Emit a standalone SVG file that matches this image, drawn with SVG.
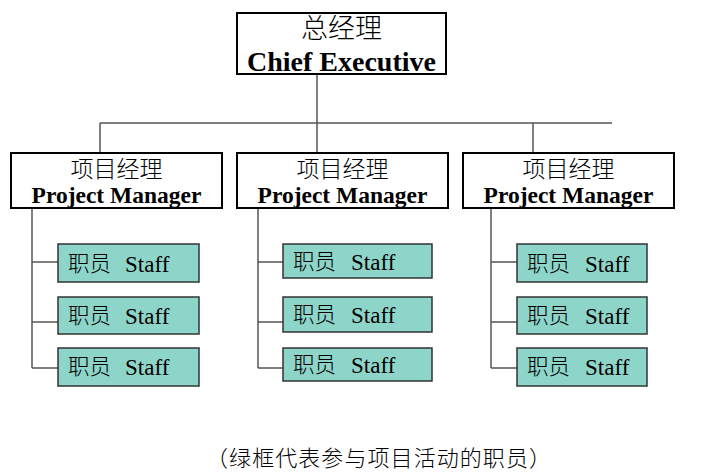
<svg xmlns="http://www.w3.org/2000/svg" width="710" height="475" viewBox="0 0 710 475">
<style>
.box{fill:#fff;stroke:#000;stroke-width:2}
.staff{fill:#8dd4c9;stroke:#333;stroke-width:1.5}
.ln{stroke:#555;stroke-width:1.5;fill:none}
.cn{font-family:"Noto Sans CJK SC","Noto Sans CJK JP",sans-serif;fill:#000;font-weight:300}
.en{font-family:"Liberation Serif","Times New Roman",serif;fill:#000}
.b{font-weight:bold}
</style>
<g id="connectors">
<path class="ln" d="M317,74 V153 M100,123 H612 M100,123 V153 M533,123 V153"/>
<path class="ln" d="M32,208 V368 M32,262 H58 M32,322 H58 M32,368 H58"/>
<path class="ln" d="M258,208 V368 M258,262 H283 M258,322 H283 M258,368 H283"/>
<path class="ln" d="M491,208 V368 M491,262 H517 M491,322 H517 M491,368 H517"/>
</g>
<g id="ceo">
<rect class="box" x="237" y="13" width="209" height="61"/>
<text class="cn" x="341.5" y="38" font-size="27" text-anchor="middle">总经理</text>
<text class="en b" x="341.5" y="71" font-size="28" text-anchor="middle">Chief Executive</text>
</g>
<g id="pm1">
<rect class="box" x="11" y="153" width="211" height="55"/>
<text class="cn" x="116.5" y="177" font-size="23" text-anchor="middle">项目经理</text>
<text class="en b" x="116.5" y="203" font-size="23.5" text-anchor="middle">Project Manager</text>
</g>
<g id="pm2">
<rect class="box" x="237" y="153" width="211" height="55"/>
<text class="cn" x="342.5" y="177" font-size="23" text-anchor="middle">项目经理</text>
<text class="en b" x="342.5" y="203" font-size="23.5" text-anchor="middle">Project Manager</text>
</g>
<g id="pm3">
<rect class="box" x="463" y="153" width="211" height="55"/>
<text class="cn" x="568.5" y="177" font-size="23" text-anchor="middle">项目经理</text>
<text class="en b" x="568.5" y="203" font-size="23.5" text-anchor="middle">Project Manager</text>
</g>
<g id="s11"><rect class="staff" x="58" y="244" width="141" height="38"/><text class="cn" x="68" y="271" font-size="21.5">职员</text><text class="en" x="125" y="272" font-size="23">Staff</text></g>
<g id="s12"><rect class="staff" x="58" y="297" width="141" height="37"/><text class="cn" x="68" y="323" font-size="21.5">职员</text><text class="en" x="125" y="324" font-size="23">Staff</text></g>
<g id="s13"><rect class="staff" x="58" y="348" width="141" height="38"/><text class="cn" x="68" y="374" font-size="21.5">职员</text><text class="en" x="125" y="375" font-size="23">Staff</text></g>
<g id="s21"><rect class="staff" x="283" y="244" width="149" height="34"/><text class="cn" x="293" y="269" font-size="21.5">职员</text><text class="en" x="351" y="270" font-size="23">Staff</text></g>
<g id="s22"><rect class="staff" x="283" y="297" width="149" height="35"/><text class="cn" x="293" y="322" font-size="21.5">职员</text><text class="en" x="351" y="323" font-size="23">Staff</text></g>
<g id="s23"><rect class="staff" x="283" y="348" width="149" height="33"/><text class="cn" x="293" y="372" font-size="21.5">职员</text><text class="en" x="351" y="373" font-size="23">Staff</text></g>
<g id="s31"><rect class="staff" x="517" y="244" width="130" height="38"/><text class="cn" x="527" y="271" font-size="21.5">职员</text><text class="en" x="585" y="272" font-size="23">Staff</text></g>
<g id="s32"><rect class="staff" x="517" y="297" width="130" height="37"/><text class="cn" x="527" y="323" font-size="21.5">职员</text><text class="en" x="585" y="324" font-size="23">Staff</text></g>
<g id="s33"><rect class="staff" x="517" y="348" width="130" height="38"/><text class="cn" x="527" y="374" font-size="21.5">职员</text><text class="en" x="585" y="375" font-size="23">Staff</text></g>
<text class="cn" x="206" y="466" font-size="22" textLength="345" lengthAdjust="spacing" fill="#222">（绿框代表参与项目活动的职员）</text>
</svg>
